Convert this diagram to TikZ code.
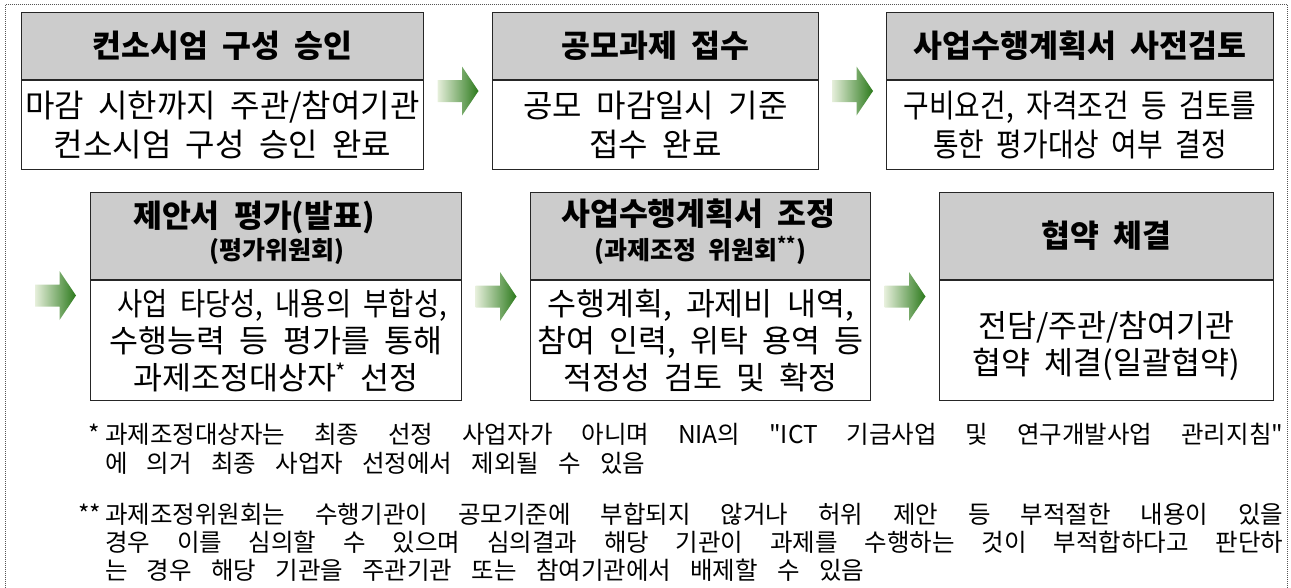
\documentclass[tikz,border=0pt]{standalone}
\usepackage{fontspec}
\usepackage{graphicx}
\setmainfont{Noto Sans CJK KR}[WordSpace=2]
\newfontfamily\condfam{Noto Sans CJK KR}[WordSpace=2, FakeStretch=0.87]
\newfontfamily\notefam{Noto Sans CJK KR}[WordSpace=3.5]
\usetikzlibrary{calc}
\definecolor{hdr}{HTML}{CCCCCC}
\definecolor{arrL}{HTML}{E6EFDB}
\definecolor{arrR}{HTML}{2C7A1C}
\definecolor{frm}{HTML}{555555}
\newcommand\hdrfont{\bfseries\fontsize{31.4}{38}\selectfont}
\newcommand\mysubfont{\bfseries\fontsize{25}{30}\selectfont}
\newcommand\bodyA{\fontsize{32}{39}\selectfont}
\newcommand\bodyB{\fontsize{31.5}{37}\selectfont}
\newcommand\notefont{\notefam\fontsize{24.5}{29}\selectfont}
\newcommand\blockarrow[1]{%
  \shade[left color=arrL, right color=arrR, shift={#1}]
    (-20.5,-11) -- (4,-11) -- (4,-24.5) -- (20.5,0) -- (4,24.5) -- (4,11) -- (-20.5,11) -- cycle;}
\tikzset{
  hdrbox/.style={draw=black!85, line width=1pt, fill=hdr, anchor=north west,
    inner sep=0pt, align=center, font=\hdrfont},
  bodybox/.style={draw=black!85, line width=1pt, fill=white, anchor=north west,
    inner sep=0pt, align=center},
  hdrtext/.style={inner sep=0pt, font=\hdrfont, text height=0.8em, text depth=0.06em},
  subtext/.style={inner sep=0pt, font=\mysubfont, text height=0.8em, text depth=0.06em},
  bodytext/.style={inner sep=0pt, align=center},
  note/.style={anchor=west, inner sep=0pt, font=\notefont, text height=0.8em, text depth=0.06em},
}
\begin{document}
\begin{tikzpicture}[x=1pt, y=-1pt]
\clip (0,0) rectangle (1291,587);
\useasboundingbox (0,0) rectangle (1291,587);
% outer dotted frame
\draw[frm, line width=1pt, dash pattern=on 1pt off 1pt] (5,600) -- (5,4.5) -- (1287,4.5) -- (1287,600);

% row 1
\node[hdrbox, minimum width=402, minimum height=67] (h1) at (21,12) {컨소시엄 구성 승인};
\node[bodybox, minimum width=402, minimum height=89, font=\bodyA] (b1) at (h1.south west)
  {마감 시한까지 주관/참여기관\\컨소시엄 구성 승인 완료};

\node[hdrbox, minimum width=326, minimum height=67] (h2) at (492,12) {공모과제 접수};
\node[bodybox, minimum width=326, minimum height=89, font=\bodyA] (b2) at (h2.south west)
  {공모 마감일시 기준\\접수 완료};

\node[hdrbox, minimum width=387, minimum height=67] (h3) at (886,12) {사업수행계획서 사전검토};
\node[bodybox, minimum width=387, minimum height=89, font=\condfam\bodyA] (b3) at (h3.south west)
  {구비요건, 자격조건 등 검토를\\통한 평가대상 여부 결정};

% row 2
\node[hdrbox, minimum width=371, minimum height=87] (h4) at (90,192) {};
\node[hdrtext] (t4) at ($(h4.center)+(-22,-12.5)$) {제안서 평가(발표)};
\node[subtext] (u4) at ($(h4.center)+(1,19.5)$) {(평가위원회)};
\node[bodybox, minimum width=371, minimum height=120, font=\bodyB] (b4) at (h4.south west)
  {{\condfam\ 사업 타당성, 내용의 부합성,}\\수행능력 등 평가를 통해\\과제조정대상자\textsuperscript{*} 선정};

\node[hdrbox, minimum width=340, minimum height=87] (h5) at (530,192) {};
\node[hdrtext] (t5) at ($(h5.center)+(-2,-14)$) {사업수행계획서 조정};
\node[subtext] (u5) at ($(h5.center)+(0,19.5)$) {(과제조정 위원회\textsuperscript{**})};
\node[bodybox, minimum width=340, minimum height=120, font=\bodyB] (b5) at (h5.south west)
  {수행계획, 과제비 내역,\\참여 인력, 위탁 용역 등\\적정성 검토 및 확정};

\node[hdrbox, minimum width=334, minimum height=87] (h6) at (939,192) {협약 체결};
\node[bodybox, minimum width=334, minimum height=120] (b6) at (h6.south west) {};
\node[bodytext, font=\bodyB] (t6) at ($(b6.center)+(0,5)$) {전담/주관/참여기관\\협약 체결(일괄협약)};

% arrows
\coordinate (a0) at (55.5,295.5);
\blockarrow{($(h1.north east)!0.5!(b2.south west)$)}
\blockarrow{($(h2.north east)!0.5!(b3.south west)$)}
\blockarrow{(a0)}
\blockarrow{($(h4.north east)!0.5!(b5.south west)$)}
\blockarrow{($(h5.north east)!0.5!(b6.south west)$)}

% footnotes
\node[note] (s1) at (88,440) {*};
\node[note] (n1) at (105,440)
  {\makebox[1178pt][s]{과제조정대상자는 최종 선정 사업자가 아니며 NIA의 "ICT 기금사업 및 연구개발사업 관리지침"}};
\node[note] (n2) at (105,469) {에 의거 최종 사업자 선정에서 제외될 수 있음};
\node[note] (s2) at (78,520) {**};
\node[note] (n3) at (105,520)
  {\makebox[1178pt][s]{과제조정위원회는 수행기관이 공모기준에 부합되지 않거나 허위 제안 등 부적절한 내용이 있을}};
\node[note] (n4) at (105,548)
  {\makebox[1178pt][s]{경우 이를 심의할 수 있으며 심의결과 해당 기관이 과제를 수행하는 것이 부적합하다고 판단하}};
\node[note] (n5) at (105,576) {는 경우 해당 기관을 주관기관 또는 참여기관에서 배제할 수 있음};
\end{tikzpicture}
\end{document}
